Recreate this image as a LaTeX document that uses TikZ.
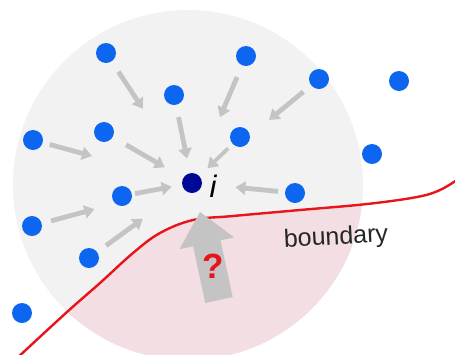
\documentclass[tikz,border=0pt]{standalone}
\usepackage{fontspec}
\setmainfont{Liberation Sans}
\usetikzlibrary{arrows.meta,calc}
\definecolor{dotblue}{RGB}{12,102,240}
\definecolor{dotdark}{RGB}{0,8,150}
\definecolor{arrgray}{RGB}{196,196,196}
\definecolor{discgray}{RGB}{242,242,242}
\definecolor{discpink}{RGB}{243,222,227}
\definecolor{bred}{RGB}{232,20,28}
\tikzset{
  dotnode/.style={circle,fill=dotblue,inner sep=0pt,minimum size=20pt},
  centernode/.style={circle,fill=dotdark,inner sep=0pt,minimum size=20pt},
  garrow/.style={draw=arrgray,line width=4.8pt,-{Triangle[length=10pt,width=13pt]}},
}
\begin{document}
\begin{tikzpicture}[x=1pt,y=-1pt]
\useasboundingbox (0,0) rectangle (455,354);
\clip (0,0) rectangle (455,354);
% disc
\fill[discgray] (188,185) circle (175);
% pink part below boundary inside disc
\begin{scope}
  \clip (188,185) circle (175);
  \fill[discpink] plot[smooth,tension=0.6] coordinates {(15,360) (67,312) (100,283) (133,253) (160,233) (193,220) (233,216) (300,210) (367,204) (417,197) (440,190) (460,178)} -- (460,400) -- (15,400) -- cycle;
\end{scope}
% boundary curve
\draw[bred,line width=2.4pt] plot[smooth,tension=0.6] coordinates {(15,360) (67,312) (100,283) (133,253) (160,233) (193,220) (233,216) (300,210) (367,204) (417,197) (440,190) (460,178)};
% big arrow
\fill[arrgray] (232.7,297) -- (220.5,240.3) -- (234.2,237.4) -- (200,212) -- (179.4,249.2) -- (193.1,246.3) -- (205.3,303) -- cycle;
\node[text=bred,font=\bfseries\fontsize{35}{35}\selectfont] (q) at (213,266) {?};
% nodes
\node[centernode] (c) at (192,183) {};
\node[font=\itshape\fontsize{31}{31}\selectfont] (ilabel) at (213,186) {i};
\node[dotnode] (d1) at (106,53) {};
\node[dotnode] (d2) at (246,56) {};
\node[dotnode] (d3) at (319,79) {};
\node[dotnode] (d4) at (399,81) {};
\node[dotnode] (d5) at (174,95) {};
\node[dotnode] (d6) at (104,132) {};
\node[dotnode] (d7) at (33,140) {};
\node[dotnode] (d8) at (240,137) {};
\node[dotnode] (d9) at (372,154) {};
\node[dotnode] (d10) at (122,196) {};
\node[dotnode] (d11) at (295,193) {};
\node[dotnode] (d12) at (32,226) {};
\node[dotnode] (d13) at (89,258) {};
\node[dotnode] (d14) at (22,313) {};
% arrows toward i
\draw[garrow,shorten <=22.5pt,shorten >=89pt] (d1.center) -- (c.center);
\draw[garrow,shorten <=22.8pt,shorten >=71.5pt] (d2.center) -- (c.center);
\draw[garrow,shorten <=20.2pt,shorten >=99.5pt] (d3.center) -- (c.center);
\draw[garrow,shorten <=22.6pt,shorten >=25pt] (d5.center) -- (c.center);
\draw[garrow,shorten <=17.3pt,shorten >=103.6pt] (d7.center) -- (c.center);
\draw[garrow,shorten <=25.5pt,shorten >=31.4pt] (d6.center) -- (c.center);
\draw[garrow,shorten <=16.4pt,shorten >=21.4pt,line width=3.8pt] (d8.center) -- (c.center);
\draw[garrow,shorten <=13.3pt,shorten >=20.6pt] (d10.center) -- (c.center);
\draw[garrow,shorten <=17pt,shorten >=43.6pt] (d11.center) -- (c.center);
\draw[garrow,shorten <=19.7pt,shorten >=101pt] (d12.center) -- (c.center);
\draw[garrow,shorten <=21.1pt,shorten >=60.8pt] (d13.center) -- (c.center);
% boundary label
\node[rotate=3,font=\fontsize{25}{25}\selectfont,text=black!85] (blabel) at (336,238) {boundary};
\end{tikzpicture}
\end{document}
